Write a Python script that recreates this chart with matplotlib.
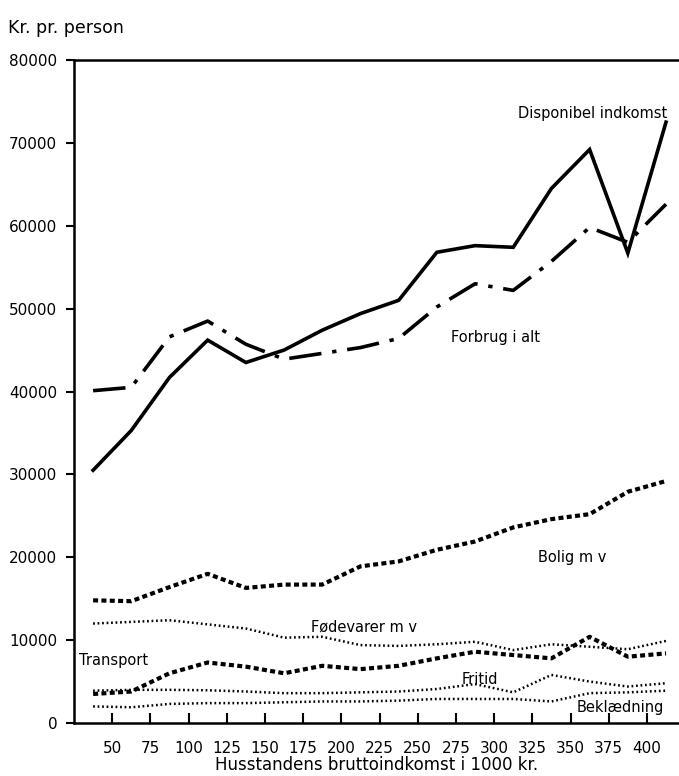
import matplotlib
matplotlib.use("Agg")
import matplotlib.pyplot as plt

# income bracket midpoints (1000 kr.)
income = [37.5, 62.5, 87.5, 112.5, 137.5, 162.5, 187.5, 212.5,
          237.5, 262.5, 287.5, 312.5, 337.5, 362.5, 387.5, 412.5]

disponibel = [30500, 35300, 41700, 46200, 43500, 45000, 47400, 49400,
              51000, 56800, 57600, 57400, 64500, 69200, 56700, 72500]
forbrug = [40100, 40500, 46600, 48500, 45700, 43900, 44600, 45300,
           46400, 50200, 53000, 52200, 55700, 59800, 58000, 62600]
bolig = [14800, 14700, 16400, 18000, 16300, 16700, 16700, 18900,
         19500, 20900, 21900, 23600, 24600, 25200, 27900, 29200]
foedevarer = [12000, 12200, 12400, 11900, 11400, 10300, 10400, 9400,
              9300, 9500, 9800, 8800, 9500, 9200, 8900, 9900]
transport = [3500, 3800, 6000, 7300, 6800, 6000, 6900, 6500,
             6900, 7800, 8600, 8200, 7800, 10400, 8000, 8400]
fritid = [3900, 4000, 4000, 3950, 3800, 3600, 3600, 3700,
          3800, 4100, 4700, 3700, 5800, 5000, 4400, 4800]
beklaedning = [2000, 1900, 2300, 2400, 2400, 2500, 2600, 2600,
               2700, 2900, 2900, 2900, 2600, 3600, 3700, 3900]

xticks = list(range(50, 401, 25))
yticks = list(range(0, 80001, 10000))

plt.rcParams['font.family'] = ['DejaVu Sans']

fig = plt.figure(figsize=(6.79, 7.76), dpi=100)
ax = fig.add_axes([74 / 679, 53 / 776, 605 / 679, 663 / 776])

ax.plot(income, disponibel, color='black', lw=2.6, solid_joinstyle='miter')
ax.plot(income, forbrug, color='black', lw=2.6, dashes=(9, 3, 1.2, 3))
ax.plot(income, bolig, color='black', lw=3, dashes=(1.2, 0.8))
ax.plot(income, transport, color='black', lw=3, dashes=(1.2, 0.8))
dots = (0.7, 1.1)
ax.plot(income, foedevarer, color='black', lw=1.8, dashes=dots)
ax.plot(income, fritid, color='black', lw=1.8, dashes=dots)
ax.plot(income, beklaedning, color='black', lw=1.8, dashes=dots)

fs = 10.5
ax.text(413, 73500, 'Disponibel indkomst', ha='right', va='center', fontsize=fs)
ax.text(272, 46500, 'Forbrug i alt', ha='left', va='center', fontsize=fs)
ax.text(329, 20000, 'Bolig m v', ha='left', va='center', fontsize=fs)
ax.text(180, 11600, 'Fødevarer m v', ha='left', va='center', fontsize=fs)
ax.text(28.5, 7600, 'Transport', ha='left', va='center', fontsize=fs)
ax.text(279, 5300, 'Fritid', ha='left', va='center', fontsize=fs)
ax.text(354, 1900, 'Beklædning', ha='left', va='center', fontsize=fs)

ax.set_xlim(25, 421)
ax.set_ylim(0, 80000)
ax.set_xticks(xticks)
ax.set_yticks(yticks)
ax.set_yticklabels([str(v) for v in yticks])
ax.tick_params(axis='x', direction='in', length=7, width=1.5, pad=13, labelsize=11)
ax.tick_params(axis='y', direction='out', length=6, width=1.5, pad=6, labelsize=11)
for s in ['left', 'bottom', 'top']:
    ax.spines[s].set_linewidth(1.8)
ax.spines['right'].set_visible(False)

ax.set_xlabel('Husstandens bruttoindkomst i 1000 kr.', fontsize=12, labelpad=0)
fig.text(8 / 679, 1 - 28 / 776, 'Kr. pr. person', fontsize=12.5, ha='left', va='center')

fig.savefig('out.png', dpi=100)
